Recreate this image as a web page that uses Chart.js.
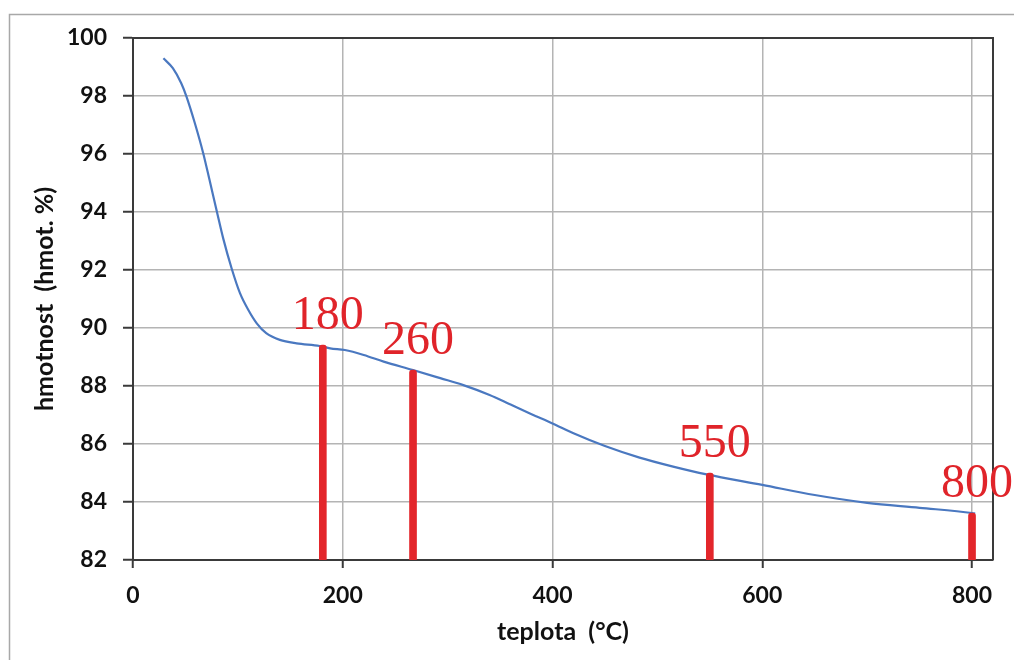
<!DOCTYPE html>
<html>
<head>
<meta charset="utf-8">
<script src="https://cdn.jsdelivr.net/npm/chart.js@4"></script>
<style>
html,body{margin:0;padding:0;background:#fff;}
#wrap{width:1014px;height:660px;position:relative;}
</style>
</head>
<body>
<div id="wrap"><canvas id="c" width="1014" height="660"></canvas></div>
<script>
// Curve: temperature (°C) vs mass (wt. %)
const temperature = [29, 38, 46, 51, 59, 67, 73, 80, 86, 94, 102, 110, 118, 127, 140, 156, 178, 188, 202, 220, 239, 267, 293, 315, 340, 360, 380, 400, 420, 450, 483, 515, 547, 600, 650, 700, 750, 800, 803];
const mass        = [99.3, 98.96, 98.44, 97.98, 97.06, 96.02, 95.1, 94.01, 93.09, 92.06, 91.2, 90.62, 90.16, 89.82, 89.59, 89.47, 89.38, 89.3, 89.24, 89.07, 88.84, 88.55, 88.27, 88.03, 87.69, 87.36, 87.03, 86.71, 86.37, 85.93, 85.53, 85.22, 84.95, 84.59, 84.24, 83.97, 83.8, 83.62, 83.6];
// Marked temperatures (red bars, positions as drawn) and their labels
const markTemps  = [181, 267, 550, 800];
const markMass   = [89.41, 88.55, 85.0, 83.62];
const markLabels = ['180', '260', '550', '800'];
// Axis ticks
const xTicks = [0, 200, 400, 600, 800];
const yTicks = [82, 84, 86, 88, 90, 92, 94, 96, 98, 100];

const FONT = 'Lato, "Liberation Sans", Arial, sans-serif';

const frame = {
  id: 'frame',
  beforeDraw(chart) {
    const ctx = chart.ctx;
    ctx.save();
    ctx.fillStyle = '#fff';
    ctx.fillRect(0, 0, chart.width, chart.height);
    ctx.strokeStyle = '#a8a8a8';
    ctx.lineWidth = 1.5;
    ctx.beginPath();
    ctx.moveTo(9.5, 700);
    ctx.lineTo(9.5, 14.5);
    ctx.lineTo(1100, 14.5);
    ctx.stroke();
    ctx.restore();
  },
  afterDatasetsDraw(chart) {
    const ctx = chart.ctx;
    const a = chart.chartArea;
    ctx.save();
    ctx.strokeStyle = '#3a3a3a';
    ctx.lineWidth = 2;
    ctx.beginPath();
    ctx.moveTo(a.left, a.top);
    ctx.lineTo(a.right, a.top);
    ctx.lineTo(a.right, a.bottom);
    ctx.stroke();
    // red labels
    const meta = chart.getDatasetMeta(1);
    ctx.fillStyle = '#e0242a';
    ctx.font = '48px "Liberation Serif", "DejaVu Serif", serif';
    ctx.textAlign = 'center';
    ctx.textBaseline = 'alphabetic';
    meta.data.forEach((el, i) => {
      ctx.fillText(markLabels[i], el.x + 5, el.y - 16);
    });
    ctx.restore();
  }
};

new Chart(document.getElementById('c'), {
  data: {
    datasets: [
      {
        type: 'line',
        data: temperature.map((t, i) => ({x: t, y: mass[i]})),
        borderColor: '#4a78c0',
        borderWidth: 2.2,
        pointRadius: 0,
        cubicInterpolationMode: 'monotone',
        fill: false,
        order: 2
      },
      {
        type: 'bar',
        data: markTemps.map((t, i) => ({x: t, y: markMass[i]})),
        backgroundColor: '#e3262b',
        barThickness: 7,
        borderRadius: 3,
        borderSkipped: false,
        order: 1
      }
    ]
  },
  options: {
    responsive: false,
    animation: false,
    events: [],
    layout: {padding: {left: 0, top: 38, right: 21, bottom: 0}},
    plugins: {legend: {display: false}, tooltip: {enabled: false}},
    scales: {
      x: {
        type: 'linear',
        min: 0, max: 820,
        offset: false,
        afterBuildTicks(s) { s.ticks = xTicks.map(v => ({value: v})); },
        afterFit(s) { s.height = 100; },
        grid: {offset: false, color: '#b4b4b4', lineWidth: 1.5, tickColor: '#3a3a3a', tickLength: 8, tickWidth: 2},
        border: {color: '#3a3a3a', width: 2},
        ticks: {color: '#111', padding: 14, maxRotation: 0, font: {family: FONT, size: 23, weight: 'bold'}},
        title: {display: true, text: 'teplota  (°C)', color: '#111', padding: {top: 0, bottom: 13}, font: {family: FONT, size: 25, weight: 'bold'}}
      },
      y: {
        type: 'linear',
        min: 82, max: 100,
        afterBuildTicks(s) { s.ticks = yTicks.map(v => ({value: v})); },
        afterFit(s) { s.width = 133; },
        grid: {color: '#b4b4b4', lineWidth: 1.5, tickColor: '#3a3a3a', tickLength: 10, tickWidth: 2},
        border: {color: '#3a3a3a', width: 2},
        ticks: {color: '#111', padding: 16, font: {family: FONT, size: 23, weight: 'bold'}},
        title: {display: true, text: 'hmotnost  (hmot. %)', color: '#111', padding: {top: 30, bottom: 0}, font: {family: FONT, size: 25, weight: 'bold'}}
      }
    }
  },
  plugins: [frame]
});
</script>
</body>
</html>
